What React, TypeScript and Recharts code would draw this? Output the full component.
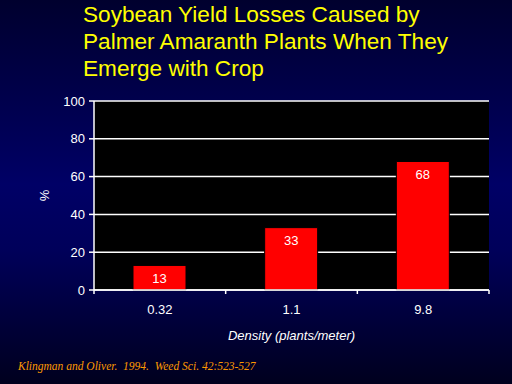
import { BarChart, Bar, CartesianGrid, XAxis, YAxis, LabelList } from "recharts";

const densities = ["0.32", "1.1", "9.8"];
const losses = [13, 33, 68];
const yTicks = [0, 20, 40, 60, 80, 100];

const data = densities.map((d, i) => ({ density: d, loss: losses[i] }));

const GAP = 15;

// category tick: label in the middle, tick marks on the band edges
const DensityTick = (props: any) => {
  const { x, y, payload, index, visibleTicksCount } = props;
  const half = payload.offset || 0;
  const axisY = y - GAP;
  const last = index === visibleTicksCount - 1;
  return (
    <g>
      <line x1={x - half} x2={x - half} y1={axisY} y2={axisY + 4} stroke="#ffffff" strokeWidth={1.5} />
      {last && <line x1={x + half} x2={x + half} y1={axisY} y2={axisY + 4} stroke="#ffffff" strokeWidth={1.5} />}
      <text x={x} y={y} dy="0.71em" textAnchor="middle" fill="#ffffff" fontSize={13}>
        {payload.value}
      </text>
    </g>
  );
};

export default function App() {
  return (
    <div
      style={{
        position: "fixed",
        left: 0,
        top: 0,
        width: 512,
        height: 384,
        overflow: "hidden",
        background: "linear-gradient(to bottom, #00002e 0%, #000066 48%, #00005a 65%, #00001e 100%)",
        fontFamily: "'Liberation Sans', Arial, sans-serif",
      }}
    >
      <div
        style={{
          position: "absolute",
          left: 83,
          top: 1,
          color: "#ffff00",
          fontSize: 22.6,
          lineHeight: "27px",
        }}
      >
        Soybean Yield Losses Caused by
        <br />
        Palmer Amaranth Plants When They
        <br />
        Emerge with Crop
      </div>
      <div style={{ position: "absolute", left: 0, top: 0 }}>
        <BarChart width={512} height={384} data={data} margin={{ top: 101, right: 23, bottom: 44, left: 0 }}>
          <CartesianGrid vertical={false} stroke="#ffffff" strokeWidth={1.5} fill="#000000" fillOpacity={1} />
          <XAxis
            dataKey="density"
            height={50}
            tickSize={0}
            tickMargin={GAP}
            tickLine={false}
            axisLine={{ stroke: "#ffffff", strokeWidth: 1.5 }}
            tick={DensityTick}
            label={{
              value: "Density (plants/meter)",
              position: "insideBottom",
              offset: 0,
              fill: "#ffffff",
              fontSize: 13,
              fontStyle: "italic",
            }}
          />
          <YAxis
            domain={[0, 100]}
            ticks={yTicks}
            width={94}
            tickSize={5}
            tickMargin={4}
            tickLine={{ stroke: "#ffffff", strokeWidth: 1.5 }}
            axisLine={{ stroke: "#ffffff", strokeWidth: 1.5 }}
            tick={{ fill: "#ffffff", fontSize: 13 }}
            label={{
              value: "%",
              angle: -90,
              position: "insideLeft",
              offset: 44,
              fill: "#ffffff",
              fontSize: 13,
              style: { textAnchor: "middle" },
            }}
          />
          <YAxis
            yAxisId="right"
            orientation="right"
            width={0}
            domain={[0, 100]}
            tick={false}
            tickLine={false}
            axisLine={{ stroke: "#ffffff", strokeWidth: 1.5 }}
          />
          <Bar
            dataKey="loss"
            fill="#ff0000"
            stroke="#000000"
            strokeWidth={1}
            barSize={53}
            isAnimationActive={false}
          >
            <LabelList dataKey="loss" position="insideTop" offset={8} fill="#ffffff" fontSize={13} />
          </Bar>
        </BarChart>
      </div>
      <div
        style={{
          position: "absolute",
          left: 18,
          top: 360,
          color: "#ff9900",
          fontFamily: "'Liberation Serif', 'Times New Roman', serif",
          fontStyle: "italic",
          fontSize: 11.5,
          whiteSpace: "pre",
        }}
      >
        {"Klingman and Oliver.  1994.  Weed Sci. 42:523-527"}
      </div>
    </div>
  );
}
